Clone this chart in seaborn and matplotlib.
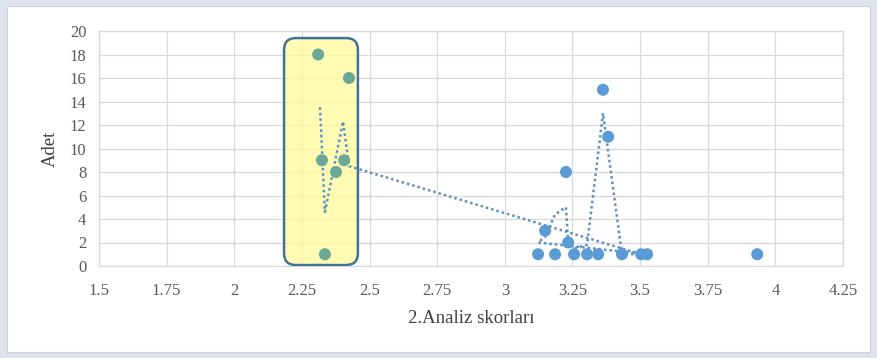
import matplotlib
matplotlib.use("Agg")
import matplotlib.pyplot as plt
import seaborn as sns
import pandas as pd
from matplotlib.patches import FancyBboxPatch, Rectangle
from matplotlib.ticker import FuncFormatter

# ---- data ----
green_x = [2.31, 2.324, 2.335, 2.376, 2.406, 2.424]
green_y = [18, 9, 1, 8, 9, 16]

blue_x = [3.123, 3.149, 3.186, 3.226, 3.234, 3.256, 3.304, 3.345, 3.363, 3.382,
          3.433, 3.504, 3.526, 3.933]
blue_y = [1, 3, 1, 8, 2, 1, 1, 1, 15, 11, 1, 1, 1, 1]

# dotted moving-average style trend line (vertices)
trend_x = [2.317, 2.335, 2.402, 2.424, 3.504, 3.526, 3.123, 3.149, 3.186, 3.226,
           3.234, 3.256, 3.304, 3.363, 3.433, 3.504]
trend_y = [13.5, 4.6, 12.3, 8.5, 1.0, 1.0, 2.0, 2.5, 4.4, 5.0,
           2.0, 1.5, 1.8, 13.0, 1.0, 1.0]

x_ticks = [1.5, 1.75, 2, 2.25, 2.5, 2.75, 3, 3.25, 3.5, 3.75, 4, 4.25]
y_ticks = [0, 2, 4, 6, 8, 10, 12, 14, 16, 18, 20]
x_label = "2.Analiz skorları"
y_label = "Adet"

box_x = (2.184, 2.457)
box_y = (0.08, 19.4)

sns.set_theme(style="white")
plt.rcParams['font.family'] = ['Liberation Serif', 'DejaVu Serif']

fig = plt.figure(figsize=(8.77, 3.58), dpi=100, facecolor="#DFE3EE")
bg = Rectangle((7/877, 6/358), 863/877, 346/358, transform=fig.transFigure,
               facecolor="white", edgecolor="#D0D0D0", lw=0.8, zorder=-10)
fig.patches.append(bg)
ax = fig.add_axes([99/877, 1-266/358, 744/877, 235/358])
ax.set_facecolor("none")
ax.set_zorder(1)

ax.set_xlim(x_ticks[0], x_ticks[-1])
ax.set_ylim(y_ticks[0], y_ticks[-1])
ax.set_xticks(x_ticks)
ax.set_yticks(y_ticks)
ax.xaxis.set_major_formatter(FuncFormatter(lambda v, p: f"{v:g}"))
ax.grid(True, color="#D9D9D9", lw=0.9, zorder=0)
ax.set_axisbelow(True)
for s in ax.spines.values():
    s.set_color("#D9D9D9")
    s.set_linewidth(0.9)
ax.tick_params(axis="both", length=0, labelsize=12, colors="#595959")
ax.tick_params(axis="x", pad=12)
ax.tick_params(axis="y", pad=9)

# yellow rounded box
rx = 0.044
aspect = 1.02 / rx
box = FancyBboxPatch((box_x[0], box_y[0]), box_x[1]-box_x[0], box_y[1]-box_y[0],
                     boxstyle=f"round,pad=0,rounding_size={rx}",
                     mutation_aspect=aspect,
                     facecolor="#FFFA9A", alpha=0.75, edgecolor="none", zorder=1)
ax.add_patch(box)
box2 = FancyBboxPatch((box_x[0], box_y[0]), box_x[1]-box_x[0], box_y[1]-box_y[0],
                      boxstyle=f"round,pad=0,rounding_size={rx}",
                      mutation_aspect=aspect,
                      facecolor="none", edgecolor="#41719C", lw=1.8, zorder=5)
ax.add_patch(box2)

trend = pd.DataFrame({"x": trend_x, "y": trend_y})
sns.lineplot(data=trend, x="x", y="y", sort=False, estimator=None, ax=ax,
             color="#5B8FC7", lw=1.8, linestyle=(0, (1, 1.2)), zorder=3)

gdf = pd.DataFrame({"x": green_x, "y": green_y})
bdf = pd.DataFrame({"x": blue_x, "y": blue_y})
sns.scatterplot(data=bdf, x="x", y="y", ax=ax, color="#5B9BD5", s=75,
                edgecolor="none", zorder=4)
sns.scatterplot(data=gdf, x="x", y="y", ax=ax, color="#6BA895", s=75,
                edgecolor="none", zorder=4)

ax.set_xlabel(x_label, fontsize=13.5, color="#404040", labelpad=8)
ax.set_ylabel(y_label, fontsize=13.5, color="#404040", labelpad=8)

fig.savefig("out.png", dpi=100, facecolor=fig.get_facecolor())
